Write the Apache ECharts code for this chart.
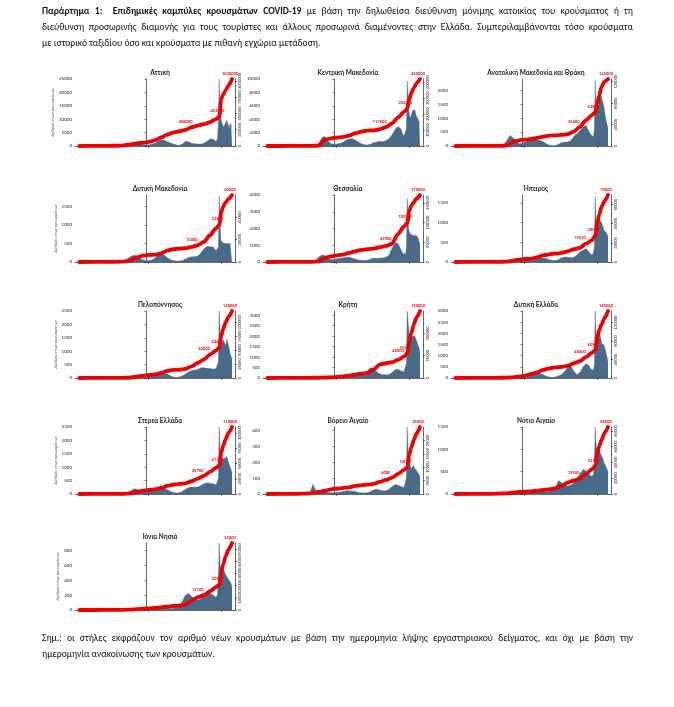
<!DOCTYPE html>
<html><head><meta charset="utf-8">
<script src="https://cdn.jsdelivr.net/npm/echarts@6/dist/echarts.min.js"></script>
<style>
html,body{margin:0;padding:0;background:#fff;}
#wrap{position:relative;width:674px;height:707px;overflow:hidden;}
#chart{position:absolute;left:0;top:0;width:674px;height:707px;}
.txt{position:absolute;left:42px;width:591px;font-family:'Carlito','Lato','Open Sans',sans-serif;font-size:9.6px;color:#111;}
.ln{display:block;text-align:justify;text-align-last:justify;height:16px;line-height:16px;overflow:hidden;}
.ln.last{text-align-last:left;}
</style></head>
<body><div id="wrap"><div id="chart"></div>
<div class="txt" id="hdr" style="top:3px">
<div class="ln"><b>Παράρτημα 1:&nbsp; Επιδημικές καμπύλες κρουσμάτων COVID-19</b> με βάση την δηλωθείσα διεύθυνση μόνιμης κατοικίας του κρούσματος ή τη</div>
<div class="ln">διεύθυνση προσωρινής διαμονής για τους τουρίστες και άλλους προσωρινά διαμένοντες στην Ελλάδα. Συμπεριλαμβάνονται τόσο κρούσματα</div>
<div class="ln last">με ιστορικό ταξιδίου όσο και κρούσματα με πιθανή εγχώρια μετάδοση.</div>
</div>
<div class="txt" id="ftr" style="top:630px">
<div class="ln">Σημ.: οι στήλες εκφράζουν τον αριθμό νέων κρουσμάτων με βάση την ημερομηνία λήψης εργαστηριακού δείγματος, και όχι με βάση την</div>
<div class="ln last">ημερομηνία ανακοίνωσης των κρουσμάτων.</div>
</div>
</div>
<script>
// ---------- DATA ----------
const regionNames = ['Αττική','Κεντρική Μακεδονία','Ανατολική Μακεδονία και Θράκη','Δυτική Μακεδονία','Θεσσαλία','Ήπειρος','Πελοπόννησος','Κρήτη','Δυτική Ελλάδα','Στερεά Ελλάδα','Βόρειο Αιγαίο','Νότιο Αιγαίο','Ιόνια Νησιά'];
const yAxisTitle = 'Αριθμός νέων κρουσμάτων';
const yearTickLabels = ['2021','2022'];

const barDates = ['2020-03-01','2020-03-15','2020-04-01','2020-04-15','2020-05-01','2020-05-15','2020-06-01','2020-06-15','2020-07-01','2020-07-15','2020-08-01','2020-08-15','2020-09-01','2020-09-15','2020-10-01','2020-10-15','2020-11-01','2020-11-15','2020-12-01','2020-12-15',
'2021-01-01','2021-01-15','2021-02-01','2021-02-15','2021-03-01','2021-03-15','2021-04-01','2021-04-15','2021-05-01','2021-05-15','2021-06-01','2021-06-15','2021-07-01','2021-07-15','2021-08-01','2021-08-15','2021-09-01','2021-09-15','2021-10-01','2021-10-15','2021-11-01','2021-11-15',
'2021-12-01','2021-12-08','2021-12-15','2021-12-22','2021-12-27','2021-12-31','2022-01-03','2022-01-05','2022-01-08','2022-01-12','2022-01-17','2022-01-22','2022-01-27','2022-02-01','2022-02-07','2022-02-13','2022-02-19','2022-02-24','2022-03-01','2022-03-05'];

const lineDates = ['2020-02-01','2020-06-01','2020-09-01','2020-10-15','2020-11-15','2020-12-15','2021-01-15','2021-02-15','2021-03-15','2021-04-15','2021-05-15','2021-06-15','2021-07-15','2021-08-15','2021-09-15','2021-10-15','2021-11-15','2021-12-15','2022-01-01','2022-01-10','2022-01-20','2022-02-01','2022-02-15','2022-03-05'];

// daily new cases (left axis)
const atticaBars = [20,30,40,30,10,10,10,20,20,40,80,150,200,250,300,500,900,1200,900,500,
400,500,700,1100,1700,2200,2100,1600,1100,700,400,300,700,1800,1600,1000,800,700,700,1000,1800,2600,
2500,2100,1700,2500,9000,25000,14000,12000,10500,9000,8000,7000,6500,7500,9500,8000,6500,8500,7500,7800];
const kMakedoniaBars = [20,20,30,20,10,5,5,10,10,20,30,60,60,80,150,400,1300,1400,700,350,
250,300,400,600,900,1050,1100,900,600,350,200,150,250,500,600,700,650,800,1100,1600,2500,2900,
2500,1800,1500,1300,2500,9700,8000,6000,5200,4500,4200,4800,5300,5200,5400,4600,4500,4000,3600,3400];
const amthBars = [5,5,10,10,5,5,5,5,5,10,15,20,20,30,60,200,380,300,150,80,
100,150,200,220,230,220,200,150,80,30,20,20,60,120,140,140,200,350,440,550,680,740,
500,420,350,320,600,2360,1460,1150,1200,1300,1500,1800,1880,1740,1700,1400,1100,900,750,650];
const dMakedoniaBars = [0,0,2,2,1,1,1,1,1,2,5,10,20,40,100,150,180,160,100,50,
40,40,60,120,200,230,180,120,60,40,30,30,40,80,120,140,140,160,250,350,420,410,
400,380,300,250,400,1770,1360,1000,590,550,520,500,480,500,520,500,480,500,480,450];
const thessaliaBars = [2,2,5,5,2,2,2,2,2,5,10,20,30,60,120,300,420,380,200,150,
150,200,230,250,290,280,230,180,120,100,90,100,180,230,220,230,250,280,400,800,1150,1100,
700,550,480,450,800,3800,3080,2300,1900,1730,1650,1700,1600,1650,1600,1550,1540,1400,1200,1000];
const ipeirosBars = [1,1,2,2,1,1,1,1,1,2,5,10,15,20,30,40,40,40,30,30,
40,60,80,80,90,100,100,100,90,60,40,40,60,110,125,120,110,120,180,250,300,340,
250,200,170,230,400,1660,1180,920,700,800,1000,1070,1050,1000,900,800,760,750,700,650];
const peloponnisosBars = [0,10,80,20,5,5,5,5,5,10,15,20,30,40,60,80,100,110,90,60,
70,100,140,160,170,190,180,150,80,40,30,40,80,150,220,280,300,320,380,380,360,350,
330,340,350,400,600,2500,2000,1350,1280,1410,1300,1410,1300,1200,1440,1300,1090,900,800,700];
const kritiBars = [1,2,3,3,2,2,2,2,3,5,10,15,20,25,30,40,50,60,40,30,
30,40,50,60,80,90,100,100,110,150,250,350,490,450,300,200,160,150,160,250,400,420,
330,320,300,350,700,3200,2900,2600,2270,1780,1900,2000,1950,1950,2000,1950,1700,1620,1400,1200];
const dElladaBars = [0,2,3,3,2,1,1,1,2,5,10,15,20,25,40,50,60,60,40,40,
60,100,150,180,220,260,200,150,80,40,30,40,100,150,300,480,520,300,150,250,500,640,
550,400,330,350,600,3000,2240,1860,1480,1700,2000,2090,1800,1550,1600,1480,1300,1100,900,700];
const stereaBars = [0,2,5,5,2,2,2,2,3,5,10,15,20,30,60,120,200,180,120,80,
80,120,160,200,240,260,220,160,100,60,40,50,100,180,240,260,250,260,320,380,420,400,
380,350,340,380,600,2500,1900,1500,1300,1400,1350,1300,1250,1300,1400,1250,1100,1000,900,800];
const vAigaioBars = [0,0,1,1,0,0,0,0,1,2,3,5,10,60,20,10,10,15,10,8,
8,10,12,15,20,20,18,15,10,8,6,8,15,25,30,25,20,20,30,45,60,55,
45,40,40,50,100,420,320,250,200,180,170,160,170,180,160,150,140,130,120,100];
const nAigaioBars = [0,0,1,1,0,0,0,0,2,5,10,20,30,20,15,20,30,30,20,15,
15,20,30,40,50,60,70,60,50,60,90,150,300,250,200,180,200,250,350,450,550,520,
450,400,380,420,700,1500,1200,1100,1000,1050,1000,950,900,850,800,700,650,600,550,500];
const ioniaBars = [0,0,1,1,0,0,0,0,1,2,5,10,15,10,10,15,20,20,15,10,
10,15,20,25,30,30,30,25,20,20,30,60,120,200,220,180,150,130,150,200,250,230,
200,180,170,200,350,900,700,600,550,500,520,550,500,480,450,420,400,380,350,300];

// cumulative cases (right axis)
const atticaCum = [0,1500,6000,26000,41000,52000,62000,89000,131000,175000,206000,227000,247000,288000,314000,335000,366000,412000,453000,721000,793000,855000,927000,1030000];
const kMakedoniaCum = [0,200,1000,2000,40000,48000,52500,56700,65100,79800,90300,96600,97500,105000,117600,140700,178500,214200,235200,291900,329700,361200,392700,420000];
const amthCum = [0,100,300,600,7500,10600,11900,13100,15000,17500,19400,20000,20600,21900,26900,35600,48100,57500,63800,79400,95000,110600,120000,125000];
const dMakedoniaCum = [0,100,300,1500,4200,5700,6300,6600,7800,10200,11400,12000,12300,13500,15000,18000,24000,30000,33600,44400,49500,53400,56400,60000];
const thessaliaCum = [0,100,400,1700,10200,14500,17000,18700,23000,27200,30600,32300,34000,37400,40800,45900,71400,90100,100300,129200,142800,151300,160700,170000];
const ipeirosCum = [0,50,150,350,1400,2450,3150,3500,4900,7000,8050,8750,9450,11200,13300,14700,19250,22750,28000,40250,49700,57750,63700,70000];
const peloponnisosCum = [0,150,300,600,2400,4200,5400,6600,9000,12600,14400,14800,16200,21000,27000,33000,42000,49200,54600,75600,87600,99600,109200,120000];
const kritiCum = [0,150,450,600,750,1500,2250,3750,5250,7500,9750,11250,18750,30000,33000,35250,40500,48000,55500,81000,99750,118500,135000,150000];
const dElladaCum = [0,100,300,700,1450,2900,5100,8700,12300,17400,21000,23200,23900,26100,31900,36250,45000,55100,60900,87700,103700,116000,129000,145000];
const stereaCum = [0,110,330,1100,3300,5500,6600,7700,9900,13200,15400,16500,17600,20900,25300,29700,36300,42900,47300,68200,79200,90200,100100,110000];
const vAigaioCum = [0,25,250,750,1250,1750,2000,2250,2500,3000,3250,3500,3750,4500,5250,6000,7500,9000,10000,14500,17250,20000,22500,25000];
const nAigaioCum = [0,50,425,850,1700,2550,2975,3400,4250,5100,5950,7225,10200,14450,17000,19550,25500,31450,35700,51000,60350,68850,77350,85000];
const ioniaCum = [0,30,165,330,660,1100,1375,1650,2200,2750,3300,3575,4400,7700,10450,12100,15400,18700,20900,30800,37400,44000,49500,55000];

const leftMax  = [25000,10000,2400,1800,4000,1700,2500,3200,3000,2500,420,1500,900];
const leftStep = [5000,2000,500,500,1000,500,500,500,500,500,100,500,200];
const rightMax  = [1030000,420000,125000,60000,170000,70000,120000,150000,145000,110000,25000,85000,55000];
const rightStep = [250000,100000,40000,20000,50000,20000,25000,50000,40000,25000,5000,20000,10000];
const midLabelIdx = [13,14,15,14,15,16,16,17,16,15,15,15,15];

// ---------- BUILD ----------
const barsAll = [atticaBars,kMakedoniaBars,amthBars,dMakedoniaBars,thessaliaBars,ipeirosBars,peloponnisosBars,kritiBars,dElladaBars,stereaBars,vAigaioBars,nAigaioBars,ioniaBars];
const cumAll = [atticaCum,kMakedoniaCum,amthCum,dMakedoniaCum,thessaliaCum,ipeirosCum,peloponnisosCum,kritiCum,dElladaCum,stereaCum,vAigaioCum,nAigaioCum,ioniaCum];

// x values are days counted from 1 Jan 2021, so the year ticks fall on multiples of 365
const ORIGIN = Date.UTC(2021,0,1);
function dayNum(s){ const p = s.split('-'); return Math.round((Date.UTC(+p[0], +p[1]-1, +p[2]) - ORIGIN) / 86400000); }
const plain = v => String(Math.round(v));

const FONT = 'Lato, "Open Sans", sans-serif';
const barColor = '#4a6a89';
const red = '#ee0000';
const colLeft = [75,263,451], rowTop = [79,195,311,427,543], W = 160, H = 67;
const xMin = dayNum('2020-01-10'), xMax = dayNum('2022-03-20');

const grids=[], xAxes=[], yAxes=[], series=[], titles=[];
regionNames.forEach((name,i)=>{
  const r = Math.floor(i/3), c = i%3;
  const L = colLeft[c], T = rowTop[r];
  grids.push({left:L, top:T, width:W, height:H});
  titles.push({text:name, left:L+W/2, top:T-15, textAlign:'center',
    textStyle:{fontSize:6.5, fontWeight:'bold', color:'#222', fontFamily:FONT}});
  xAxes.push({type:'value', gridIndex:i, min:xMin, max:xMax, interval:365,
    axisLine:{show:true, lineStyle:{color:'#000', width:0.6}},
    axisTick:{show:true, length:2, lineStyle:{color:'#000', width:0.5}},
    axisLabel:{showMinLabel:false, showMaxLabel:false,
      formatter:v=> v===0 ? yearTickLabels[0] : (v===365 ? yearTickLabels[1] : ''),
      fontSize:4, color:'#333', margin:4, fontFamily:FONT},
    splitLine:{show:false}});
  yAxes.push({type:'value', gridIndex:i, min:0, max:leftMax[i], interval:leftStep[i], position:'left',
    axisLine:{show:true, lineStyle:{color:'#000', width:0.6}},
    axisTick:{show:true, length:2, lineStyle:{color:'#000', width:0.5}},
    axisLabel:{formatter:plain, fontSize:4.5, color:'#222', margin:3, fontFamily:FONT, showMaxLabel: leftMax[i]%leftStep[i]===0},
    splitLine:{show:false},
    name: c===0 ? yAxisTitle : '', nameLocation:'middle', nameGap:15, nameRotate:90,
    nameTextStyle:{fontSize:4, color:'#555', fontFamily:FONT}});
  yAxes.push({type:'value', gridIndex:i, min:0, max:rightMax[i], interval:rightStep[i], position:'right',
    axisLine:{show:true, lineStyle:{color:'#000', width:0.6}},
    axisTick:{show:true, length:2, lineStyle:{color:'#000', width:0.5}},
    axisLabel:{formatter:plain, rotate:90, fontSize:4, color:'#222', margin:3, fontFamily:FONT, showMaxLabel:false},
    splitLine:{show:false}});
  series.push({type:'line', xAxisIndex:i, yAxisIndex:2*i, silent:true, z:2,
    data: barDates.map((d,k)=>[dayNum(d), barsAll[i][k]]),
    symbol:'none', lineStyle:{width:0.4, color:barColor}, areaStyle:{color:barColor, opacity:1}});
  const n = lineDates.length;
  series.push({type:'line', xAxisIndex:i, yAxisIndex:2*i+1, silent:true, z:3,
    smooth:0.25, smoothMonotone:'x', showSymbol:true, symbol:'circle', symbolSize:1,
    itemStyle:{color:red},
    lineStyle:{width:3.8, color:red, cap:'round', join:'round'},
    data: lineDates.map((d,k)=>{
      const show = (k===midLabelIdx[i] || k===18 || k===n-1);
      const off = k===midLabelIdx[i] ? [-6,0] : [-2,0];
      return {value:[dayNum(d), cumAll[i][k]], label:{show:show, offset:off}};
    }),
    label:{position:'top', distance:3, formatter:p=>String(p.value[1]), fontSize:4, fontWeight:'bold', color:red, fontFamily:FONT}});
});

const chart = echarts.init(document.getElementById('chart'), null, {renderer:'canvas'});
chart.setOption({animation:false, backgroundColor:'#fff', title:titles, grid:grids, xAxis:xAxes, yAxis:yAxes, series:series});

// fit justified text lines
document.querySelectorAll('.ln').forEach(el=>{
  let fs = 9.6;
  while (el.scrollHeight > 17 && fs > 6) { fs -= 0.1; el.style.fontSize = fs + 'px'; }
});
</script>
</body></html>
